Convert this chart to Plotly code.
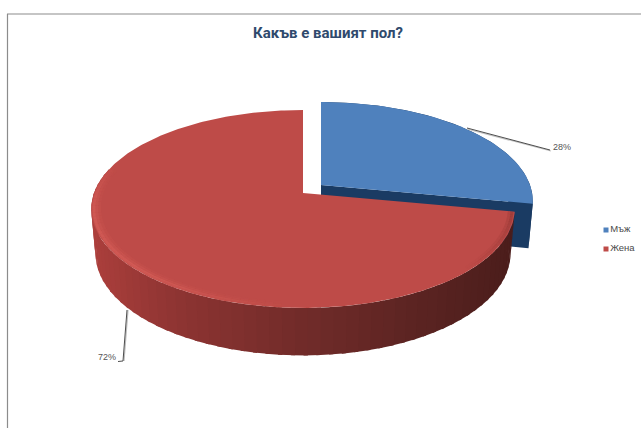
import numpy as np
import plotly.graph_objects as go

# ---- data ----
title_text = "Какъв е вашият пол?"
categories = ["Мъж", "Жена"]
values = [28, 72]
slice_labels = ["28%", "72%"]
top_colors = ["#4F81BD", "#BE4B48"]

# ---- projection of the tilted pie into plot coordinates ----
CX, CY, B, A, K = 303.0, 193.0, 209.0, 65.2, 0.1616
EXPLODE = (18.0, -8.0)


def top_face(deg, off=(0.0, 0.0), r=1.0):
    t = np.radians(deg)
    u, v = r * np.sin(t), r * np.cos(t)
    d = 1 + K * v
    return CX + B * u / d + off[0], (CY - A * v) / d + off[1]


def bottom_face(x, y, off=(0.0, 0.0)):
    vx = CX + off[0]
    vy = CY + off[1]
    return vx + (x - vx) * 0.98, y + 44 + (y - vy) * 0.03


def mix(c1, c2, f):
    a = [int(c1[i:i + 2], 16) for i in (1, 3, 5)]
    b = [int(c2[i:i + 2], 16) for i in (1, 3, 5)]
    return "rgb(%d,%d,%d)" % tuple(round(p + (q - p) * f) for p, q in zip(a, b))


def poly(xs, ys, color, w=0.0):
    return go.Scatter(x=list(xs), y=list(ys), mode="lines", fill="toself", fillcolor=color,
                      line=dict(width=w, color=color), hoverinfo="skip", showlegend=False)


def side_colour_red(x):
    stops = [(91, "#AC3F3C"), (180, "#8E3432"), (300, "#732C2A"), (420, "#5C2422"), (514, "#4B1D1B")]
    for (x0, c0), (x1, c1) in zip(stops, stops[1:]):
        if x <= x1:
            return mix(c0, c1, max(0.0, (x - x0) / (x1 - x0)))
    return stops[-1][1]


fig = go.Figure()

cuts = np.cumsum([0] + values) / sum(values) * 360.0
blue_a = np.linspace(cuts[0], cuts[1], 90)
red_a = np.linspace(cuts[1], cuts[2], 260)

# blue slice: side walls then top
bx, by = top_face(blue_a, EXPLODE)
bbx, bby = bottom_face(bx, by, EXPLODE)
vx, vy = CX + EXPLODE[0], CY + EXPLODE[1]
bvx, bvy = bottom_face(vx, vy, EXPLODE)
fig.add_trace(poly(np.r_[bx, bbx[::-1]], np.r_[by, bby[::-1]], "#17375E"))
fig.add_trace(poly([vx, bx[-1], bbx[-1], bvx], [vy, by[-1], bby[-1], bvy], "#1A3B63"))
fig.add_trace(poly(np.r_[vx, bx], np.r_[vy, by], top_colors[0]))

# red slice: shaded side wall as overlapping bands, then top
rx, ry = top_face(red_a)
rbx, rby = bottom_face(rx, ry)
mask = red_a <= 285
sx, sy, sbx, sby = rx[mask], ry[mask], rbx[mask], rby[mask]
STEP = 3
for i in range(0, len(sx) - 1, STEP):
    j = np.arange(i, min(i + STEP + 2, len(sx)))
    fig.add_trace(poly(np.r_[sx[j], sbx[j][::-1]], np.r_[sy[j], sby[j][::-1]],
                       side_colour_red(sx[i])))
fig.add_trace(poly(np.r_[CX, rx], np.r_[CY, ry], top_colors[1]))

# soft rim light on lower-left edge, darker rim at the right end
rim = np.linspace(185, 285, 50)
for r, alpha in [(0.988, 0.40), (0.975, 0.22), (0.962, 0.10)]:
    for a0, a1 in zip(rim[:-1], rim[1:]):
        f = min(1.0, (a0 - 180) / 45) * min(1.0, (290 - a0) / 30)
        xx, yy = top_face(np.array([a0, a1]), r=r)
        fig.add_trace(go.Scatter(x=xx, y=yy, mode="lines", hoverinfo="skip", showlegend=False,
                                 line=dict(color="rgba(232,108,100,%.3f)" % (alpha * f), width=3)))
edge = np.linspace(101, 135, 24)
for r, alpha in [(0.988, 0.28), (0.975, 0.14)]:
    for a0, a1 in zip(edge[:-1], edge[1:]):
        f = max(0.0, (135 - a0) / 34)
        xx, yy = top_face(np.array([a0, a1]), r=r)
        fig.add_trace(go.Scatter(x=xx, y=yy, mode="lines", hoverinfo="skip", showlegend=False,
                                 line=dict(color="rgba(90,30,28,%.3f)" % (alpha * f), width=3)))

# legend
fig.add_trace(go.Scatter(x=[606, 606], y=[230, 249], mode="markers+text", text=categories,
                         textposition="middle right", hoverinfo="skip", showlegend=False,
                         cliponaxis=False,
                         textfont=dict(family="Liberation Sans", size=9.5, color="#4a4a4a"),
                         marker=dict(symbol="square", size=5, color=top_colors)))

# frame and leader lines
line_shapes = [
    dict(x0=7, y0=14, x1=641, y1=14, line=dict(color="#8c8c8c", width=1.2)),
    dict(x0=7.5, y0=14, x1=7.5, y1=428, line=dict(color="#8c8c8c", width=1.2)),
    dict(x0=467, y0=129, x1=551, y1=151, line=dict(color="#c4c4c4", width=1.2)),
    dict(x0=467, y0=128, x1=550, y1=150, line=dict(color="#3a3a3a", width=0.9)),
    dict(x0=128, y0=310, x1=124, y1=361, line=dict(color="#bdbdbd", width=1.2)),
    dict(x0=127, y0=310, x1=123, y1=361, line=dict(color="#3a3a3a", width=0.9)),
    dict(x0=123, y0=361, x1=118, y1=361.5, line=dict(color="#3a3a3a", width=0.9)),
]

fig.update_layout(
    width=641, height=428, autosize=False, showlegend=False,
    margin=dict(l=0, r=0, t=0, b=0), paper_bgcolor="white", plot_bgcolor="white",
    xaxis=dict(range=[0, 641], visible=False, fixedrange=True),
    yaxis=dict(range=[428, 0], visible=False, fixedrange=True),
    shapes=[dict(type="line", xref="x", yref="y", layer="above", **s) for s in line_shapes],
    annotations=[
        dict(x=328, y=33, text="<b>%s</b>" % title_text, showarrow=False,
             font=dict(family="Roboto", size=15, color="#2F4A6D")),
        dict(x=562, y=147, text=slice_labels[0], showarrow=False,
             font=dict(family="Liberation Sans", size=9, color="#555555")),
        dict(x=107, y=357, text=slice_labels[1], showarrow=False,
             font=dict(family="Liberation Sans", size=9, color="#555555")),
    ],
)
fig.write_html("out.html", config=dict(displayModeBar=False),
               post_script="document.body.style.margin='0';document.documentElement.style.overflow='hidden';")
